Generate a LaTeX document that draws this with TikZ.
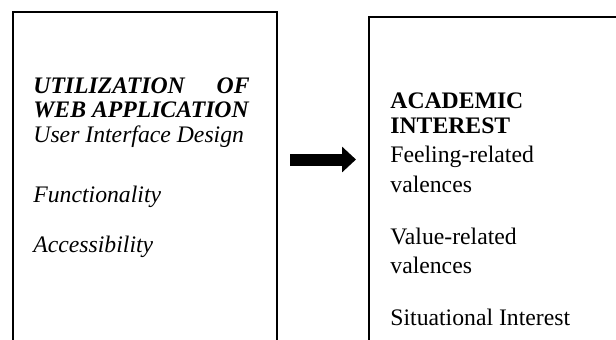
\documentclass[tikz,border=0pt]{standalone}
\usepackage{fontspec}
\setmainfont{Liberation Serif}
\usetikzlibrary{arrows.meta}
\begin{document}
\begin{tikzpicture}[x=0.5pt,y=-0.5pt,
  box/.style={draw=black,line width=1pt,fill=none,inner sep=0pt,anchor=north west},
  txt/.style={inner sep=0pt,anchor=base west,font=\fontsize{11.85}{14}\selectfont},
  txtr/.style={txt,anchor=base east},
  flow/.style={line width=6pt,-{Triangle[length=7pt,width=12.5pt]},shorten <=6pt,shorten >=6pt}]
\useasboundingbox (0,0) rectangle (616,339);
\clip (0,0) rectangle (616,339);
\node[box,minimum width=132pt,minimum height=200pt] (L) at (12,11) {};
\node[box,minimum width=136pt,minimum height=200pt] (R) at (368,16) {};
% left texts
\node[txt,font=\fontsize{11.85}{14}\selectfont\bfseries\itshape] (l1) at (33,93) {UTILIZATION};
\node[txtr,font=\fontsize{11.85}{14}\selectfont\bfseries\itshape] (l1b) at (250,93) {OF};
\node[txt,font=\fontsize{11.85}{14}\selectfont\bfseries\itshape] (l2) at (33,117) {WEB APPLICATION};
\node[txt,font=\fontsize{11.85}{14}\selectfont\itshape] (l3) at (33,142) {User Interface Design};
\node[txt,font=\fontsize{11.85}{14}\selectfont\itshape] (l4) at (33,202) {Functionality};
\node[txt,font=\fontsize{11.85}{14}\selectfont\itshape] (l5) at (33,252) {Accessibility};
% right texts
\node[txt,font=\fontsize{11.85}{14}\selectfont\bfseries] (r1) at (390,108) {ACADEMIC};
\node[txt,font=\fontsize{11.85}{14}\selectfont\bfseries] (r2) at (390,133) {INTEREST};
\node[txt] (r3) at (390,162) {Feeling-related};
\node[txt] (r4) at (390,192) {valences};
\node[txt] (r5) at (390,244) {Value-related};
\node[txt] (r6) at (390,273) {valences};
\node[txt] (r7) at (390,325) {Situational Interest};
% arrow
\coordinate (ay) at (0,159.5);
\draw[flow] (L.east |- ay) -- (R.west |- ay);
\end{tikzpicture}
\end{document}
